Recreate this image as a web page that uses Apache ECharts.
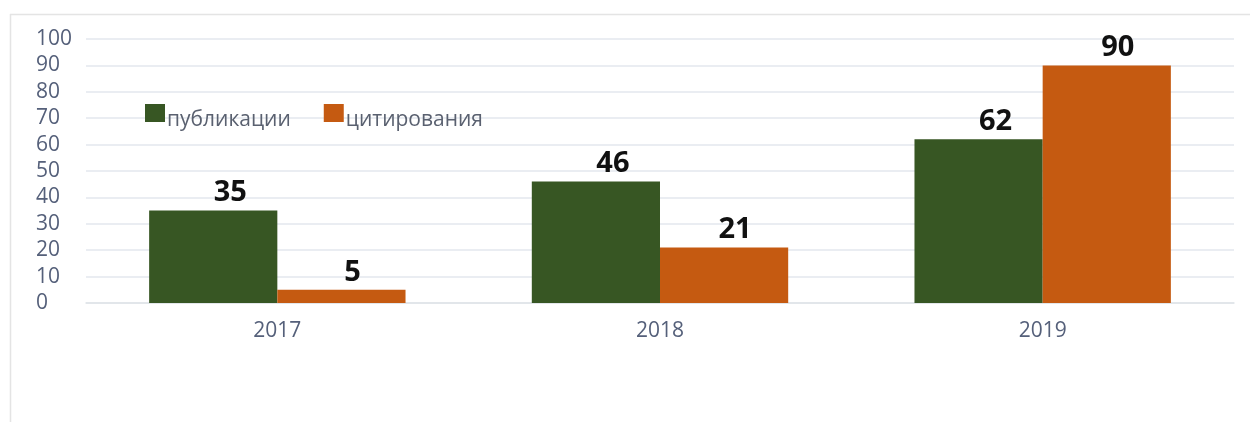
<!DOCTYPE html>
<html>
<head>
<meta charset="utf-8">
<script src="https://cdn.jsdelivr.net/npm/echarts@6/dist/echarts.min.js"></script>
<style>
html,body{margin:0;padding:0;background:#fff;}
#chart{width:1250px;height:422px;}
</style>
</head>
<body>
<div id="chart"></div>
<script>
const categories = ['2017', '2018', '2019'];
const publications = [35, 46, 62];
const citations = [5, 21, 90];
const seriesNames = ['публикации', 'цитирования'];
const yTicks = [0, 10, 20, 30, 40, 50, 60, 70, 80, 90, 100];

const chart = echarts.init(document.getElementById('chart'), null, {renderer: 'canvas'});
function labelStyle(dx) {
  return {
    show: true, position: 'top', distance: 3, offset: [dx, 0],
    fontFamily: 'Open Sans', fontWeight: 'bold', fontSize: 29, color: '#111'
  };
}
chart.setOption({
  animation: false,
  backgroundColor: '#fff',
  graphic: [
    {type: 'line', shape: {x1: 10, y1: 14.5, x2: 1250, y2: 14.5}, style: {stroke: '#e4e4e4', lineWidth: 1.5}},
    {type: 'line', shape: {x1: 10.5, y1: 14, x2: 10.5, y2: 422}, style: {stroke: '#e4e4e4', lineWidth: 1.5}}
  ],
  legend: {
    left: 140, top: 99, padding: 5,
    itemWidth: 20, itemHeight: 32, itemGap: 33,
    icon: 'path://M0,0L20,0L20,18L0,18Z M0,32',
    textStyle: {fontFamily: 'Open Sans', fontSize: 21, color: '#5a6170', padding: [0, 0, 0, -3]},
    data: seriesNames
  },
  grid: {left: 86, right: 16, top: 39, bottom: 119, containLabel: false},
  xAxis: {
    type: 'category', data: categories,
    axisLine: {show: true, lineStyle: {color: '#dfe3e8', width: 1.5}},
    axisTick: {show: false},
    axisLabel: {fontFamily: 'Open Sans', fontSize: 21, color: '#55607a', margin: 18}
  },
  yAxis: {
    type: 'value', min: yTicks[0], max: yTicks[yTicks.length - 1], interval: 10,
    axisLine: {show: false}, axisTick: {show: false},
    axisLabel: {fontFamily: 'Open Sans', fontSize: 21, color: '#55607a', align: 'left', margin: 50},
    splitLine: {lineStyle: {color: '#e3e7ee', width: 1.5}}
  },
  series: [
    {name: seriesNames[0], type: 'bar', data: publications, barGap: '0%', barCategoryGap: '33%',
     itemStyle: {color: '#375623'}, label: labelStyle(17)},
    {name: seriesNames[1], type: 'bar', data: citations,
     itemStyle: {color: '#c55a11'}, label: labelStyle(11)}
  ]
});
</script>
</body>
</html>
